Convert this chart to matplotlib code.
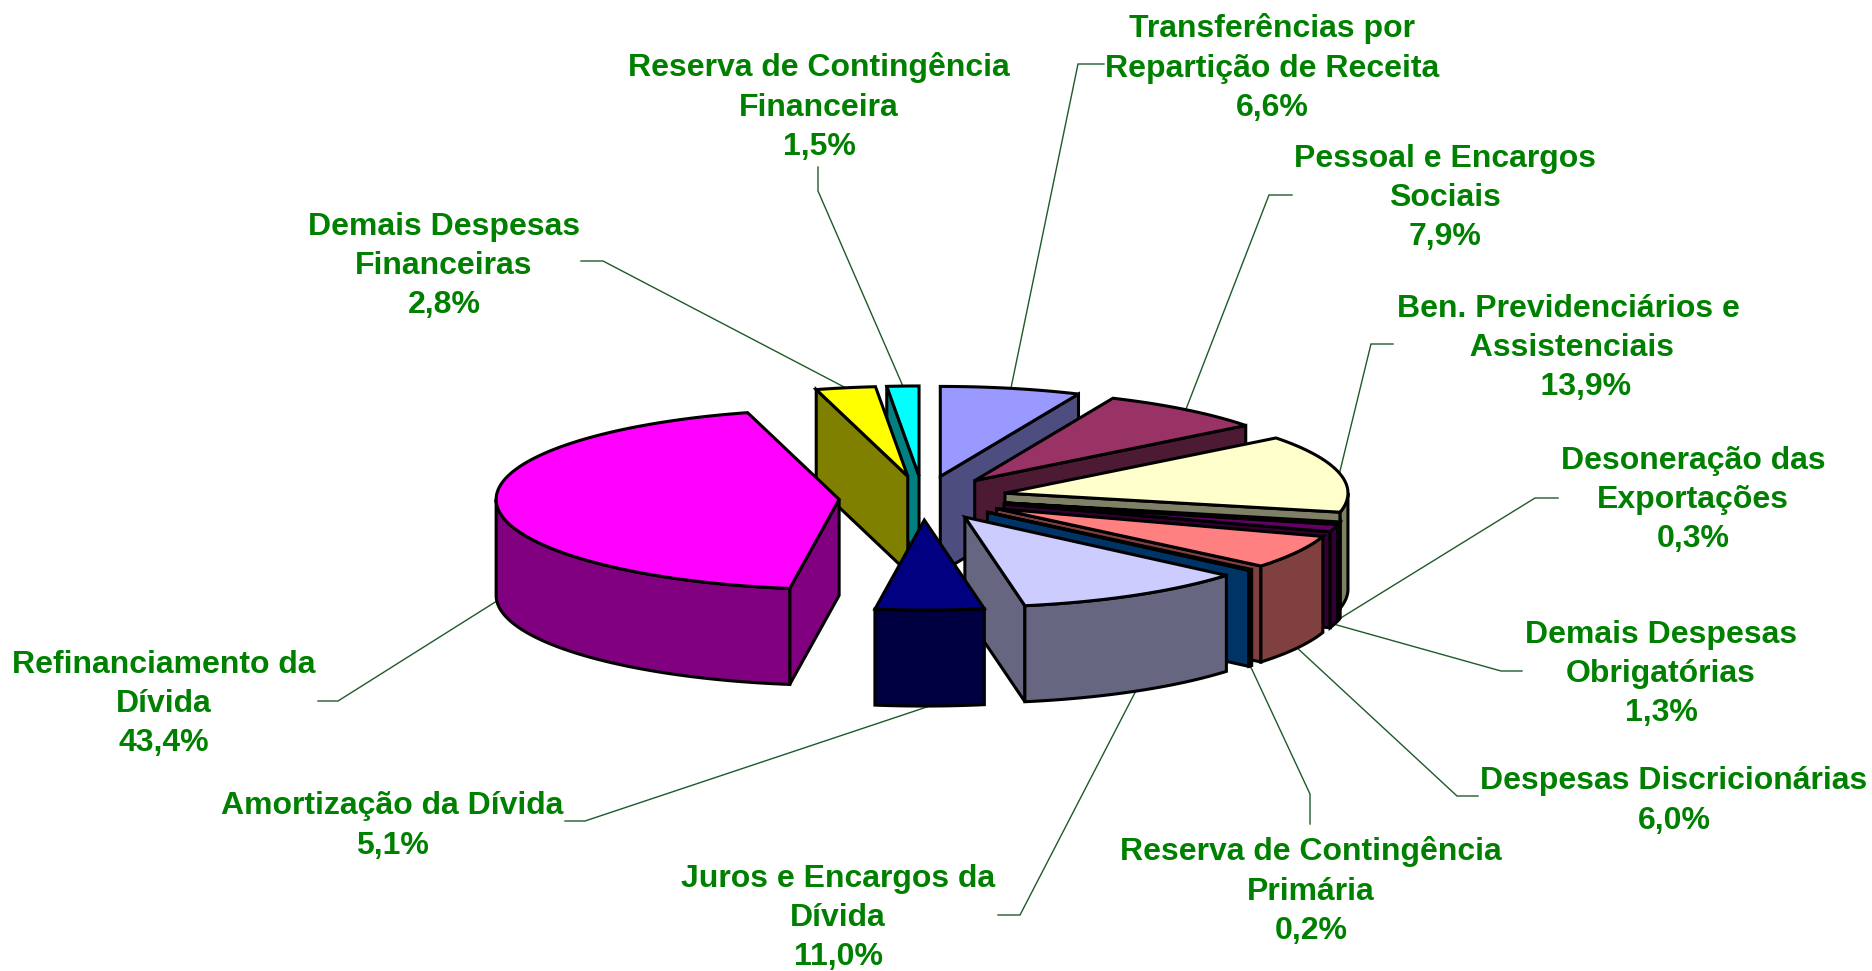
import numpy as np
import matplotlib
matplotlib.use("Agg")
import matplotlib.pyplot as plt
from matplotlib.patches import Polygon

labels = ["Transferências por\nRepartição de Receita", "Pessoal e Encargos\nSociais",
          "Ben. Previdenciários e\n Assistenciais", "Desoneração das\nExportações",
          "Demais Despesas\nObrigatórias", "Despesas Discricionárias",
          "Reserva de Contingência\nPrimária", "Juros e Encargos da\nDívida",
          "Amortização da Dívida", "Refinanciamento da\nDívida",
          "Demais Despesas\nFinanceiras", "Reserva de Contingência\nFinanceira"]
values = [6.6, 7.9, 13.9, 0.3, 1.3, 6.0, 0.2, 11.0, 5.1, 43.4, 2.8, 1.5]
pct_pad = ["", "", "    ", "", "", "", "", "", "", "", "", ""]
top_colors = ["#9999FF", "#993366", "#FFFFCC", "#CCFFFF", "#660066", "#FF8080",
              "#0066CC", "#CCCCFF", "#000080", "#FF00FF", "#FFFF00", "#00FFFF"]
side_colors = ["#4D4D80", "#4D1A33", "#808066", "#668080", "#330033", "#804040",
               "#003366", "#666680", "#000040", "#800080", "#808000", "#008080"]

# layout (pixels of the 1872x971 canvas)
CX, CY, RX, RY, DEPTH, EXPLODE = 923, 498, 343, 90, 96, 0.245
label_xy = [(1272, 68), (1445, 198), (1568, 348), (1693, 500), (1661, 674), (1674, 801),
            (1311, 891), (838, 918), (392, 826), (164, 704), (444, 266), (819, 107)]
elbows = [[(1078, 64), (1104, 64)], [(1269, 195), (1292, 195)], [(1371, 344), (1393, 344)],
          [(1535, 498), (1558, 498)], [(1501, 671), (1522, 671)], [(1457, 796), (1478, 796)],
          [(1310, 794), (1310, 824)], [(1020, 915), (998, 915)], [(585, 821), (565, 821)],
          [(338, 701), (318, 701)], [(603, 261), (581, 261)], [(818, 191), (818, 167)]]
draw_order = [11, 10, 0, 1, 2, 3, 4, 5, 6, 9, 7, 8]

fig = plt.figure(figsize=(18.72, 9.71), dpi=100)
ax = fig.add_axes([0, 0, 1, 1])
ax.set_xlim(0, 1872)
ax.set_ylim(971, 0)
ax.axis("off")

cum = np.concatenate([[0], np.cumsum(values)]) / np.sum(values) * 360
LW = 2.2
LEADER = "#1E5A2A"

def edge(ax0, ay0, th):
    t = np.radians(th)
    return ax0 + RX * np.sin(t), ay0 - RY * np.cos(t)

def arc(ax0, ay0, a, b):
    th = np.linspace(a, b, max(2, int(abs(b - a) * 2) + 2))
    t = np.radians(th)
    return np.column_stack([ax0 + RX * np.sin(t), ay0 - RY * np.cos(t)])

def apex(mid):
    t = np.radians(mid)
    return CX + EXPLODE * RX * np.sin(t), CY - EXPLODE * RY * np.cos(t)

# leader lines sit under the pie
for i in range(len(values)):
    a, b = cum[i], cum[i + 1]
    mid = (a + b) / 2
    px, py = apex(mid)
    ex, ey = edge(px, py, mid)
    if 90 < mid < 270:
        ey += DEPTH
    pts = [(ex, ey)] + elbows[i]
    ax.plot(*zip(*pts), color=LEADER, lw=1.0, zorder=1, solid_joinstyle="miter")

z = 2
for i in draw_order:
    a, b = cum[i], cum[i + 1]
    mid = (a + b) / 2
    px, py = apex(mid)
    kw = dict(closed=True, ec="black", lw=LW, joinstyle="miter")
    for th, visible in ((a, np.sin(np.radians(a)) < 0), (b, np.sin(np.radians(b)) > 0)):
        if visible:
            ex, ey = edge(px, py, th)
            ax.add_patch(Polygon([(px, py), (ex, ey), (ex, ey + DEPTH), (px, py + DEPTH)],
                                 fc=side_colors[i], zorder=z, **kw))
            z += 1
    lo, hi = max(a, 90), min(b, 270)
    if hi > lo:
        top = arc(px, py, lo, hi)
        bot = top[::-1] + [0, DEPTH]
        ax.add_patch(Polygon(np.vstack([top, bot]), fc=side_colors[i], zorder=z, **kw))
        z += 1
    ax.add_patch(Polygon(np.vstack([[(px, py)], arc(px, py, a, b)]), fc=top_colors[i], zorder=z, **kw))
    z += 1

for i, name in enumerate(labels):
    pct = pct_pad[i] + f"{values[i]:.1f}%".replace(".", ",")
    ax.text(*label_xy[i], name + "\n" + pct, ha="center", va="center", ma="center",
            color="#008000", fontsize=23, fontweight="bold", family="Liberation Sans",
            linespacing=1.41, zorder=100)

fig.savefig("out.png", dpi=100)
